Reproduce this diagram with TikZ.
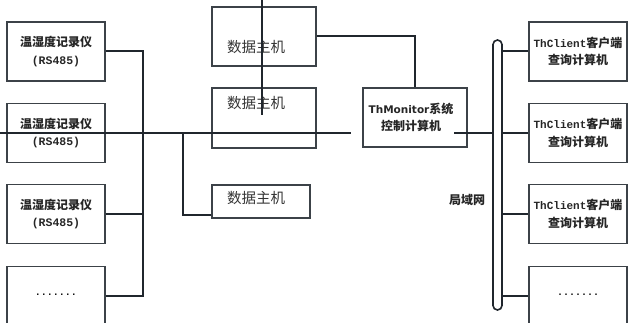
\documentclass[tikz,border=0pt]{standalone}
\usepackage{fontspec}
\setmainfont{Noto Sans CJK SC}
\newfontfamily\cjk{Noto Sans CJK SC}
\newfontfamily\monof{Liberation Mono}
\newfontfamily\latf{DejaVu Sans}
\definecolor{linec}{HTML}{20262D}
\definecolor{boxc}{HTML}{3C4248}
\begin{document}
\begin{tikzpicture}[x=1pt,y=-1pt,
  box/.style={draw=boxc, line width=1.2pt, minimum width=98pt, minimum height=59pt, inner sep=0pt, align=center},
  conn/.style={draw=linec, line width=2pt},
  lbl/.style={font=\cjk\bfseries\fontsize{12}{17.5}\selectfont, align=center, text=black!85},
  dh/.style={font=\cjk\fontsize{14.5}{17}\selectfont, text=black!80, inner sep=0pt, anchor=west},
  dots/.style={font=\monof\bfseries\fontsize{10}{12}\selectfont},
]
\useasboundingbox (0,0) rectangle (628,323);
% left recorders
\foreach \n/\y in {1/51.5,2/133,3/214} {
  \node[box,lbl] (L\n) at (56,\y) {温湿度记录仪\\{\monof\fontsize{11.5}{12}\selectfont (RS485)}};
}
\node[box,dots] (L4) at (56,296) {·······};
% data hosts
\node[box, minimum width=104pt, minimum height=59pt] (D1) at (264,36.5) {};
\node[box, minimum width=104pt, minimum height=60pt] (D2) at (264,118) {};
\node[box, minimum width=98pt, minimum height=33pt] (D3) at (261,201.5) {};
\node[dh] (D1t) at (227,47) {数据主机};
\node[dh] (D2t) at (227,103) {数据主机};
\node[dh] (D3t) at (227,198) {数据主机};
% monitor
\node[box, minimum width=104pt, minimum height=59pt, lbl] (TM) at (415,117.5)
  {\hspace*{-8pt}{\latf\fontsize{10.5}{12}\selectfont ThMonitor}系统\\\hspace*{-8pt}控制计算机};
% bus
\node[draw=linec, line width=1.6pt, rounded corners=4.5pt, minimum width=9pt, minimum height=270pt, inner sep=0pt] (bus) at (497.5,175) {};
\node[lbl] (lan) at (467,200) {局域网};
% clients
\foreach \n/\y in {1/51.5,2/133,3/214} {
  \node[box,lbl] (C\n) at (578,\y) {{\monof\fontsize{11}{12}\selectfont ThClient}客户端\\查询计算机};
}
\node[box,dots] (C4) at (578,296) {·······};
% coordinates
\coordinate (lb) at (143,0);
\coordinate (hl) at (0,133);
\coordinate (hr) at (351,133);
\coordinate (br) at (183,133);
\coordinate (vt) at (262,0);
\coordinate (vb) at (262,115);
\coordinate (tr) at (454,133);
% connectors
\draw[conn] (L1.east) -| (lb |- L4.east) -- (L4.east);
\draw[conn] (L3.east) -- (lb |- L3.east);
\draw[conn] (hl) -- (hr);
\draw[conn] (br) |- ([yshift=4pt]D3.south west);
\draw[conn] (vt) -- (vb);
\draw[conn] (D1.east) -| (TM.north);
\draw[conn] (tr) -- (bus.west |- tr);
\foreach \n in {1,2,3,4} {
  \draw[conn] (bus.east |- C\n.west) -- (C\n.west);
}
\end{tikzpicture}
\end{document}
